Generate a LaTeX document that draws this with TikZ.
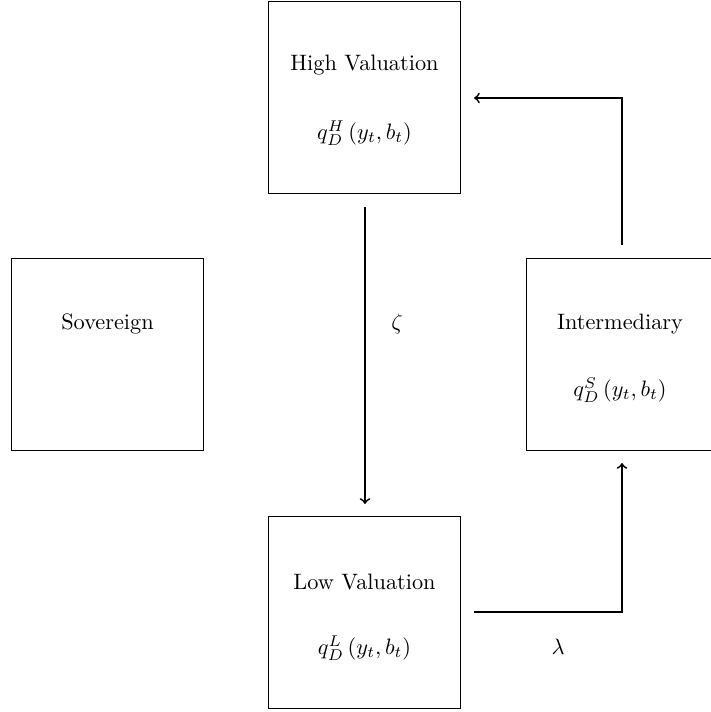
\documentclass[tikz,border=0pt]{standalone}
\begin{document}
\begin{tikzpicture}[x=0.4485pt,y=-0.4485pt,
  box/.style={draw,line width=0.5pt,minimum width=86.5pt,minimum height=86.5pt,inner sep=0pt},
  flow/.style={->,line width=0.8pt},
  txt/.style={inner sep=0pt,font=\normalsize}]
\useasboundingbox (0,0) rectangle (711,712);
\begin{scope}
\clip (0,0) rectangle (711,712);
\node[box] (high) at (364.5,97.5) {};
\node[box] (sov) at (107.5,354.5) {};
\node[box] (inter) at (622.5,354.5) {};
\node[box] (low) at (364.5,612.5) {};
\end{scope}
\node[txt] (hight) at (364.5,65) {High Valuation};
\node[txt] (highf) at (364.5,133) {$q_D^H\left(y_t,b_t\right)$};
\node[txt] (sovt) at (107.5,324) {Sovereign};
\node[txt] (intert) at (620,324) {Intermediary};
\node[txt] (interf) at (620,390) {$q_D^S\left(y_t,b_t\right)$};
\node[txt] (lowt) at (364.5,582) {Low Valuation};
\node[txt] (lowf) at (364.5,648) {$q_D^L\left(y_t,b_t\right)$};
\node[txt] (zeta) at (397,324) {$\zeta$};
\node[txt] (lambda) at (558,647) {$\lambda$};
\coordinate (a1s) at (365,207);
\coordinate (a1e) at (365,504);
\coordinate (a2s) at (474,612);
\coordinate (a2c) at (622,612);
\coordinate (a2e) at (622,463);
\coordinate (a3s) at (622,245);
\coordinate (a3c) at (622,98);
\coordinate (a3e) at (474,98);
\draw[flow] (a1s) -- (a1e);
\draw[flow] (a2s) -- (a2c) -- (a2e);
\draw[flow] (a3s) -- (a3c) -- (a3e);
\end{tikzpicture}
\end{document}
